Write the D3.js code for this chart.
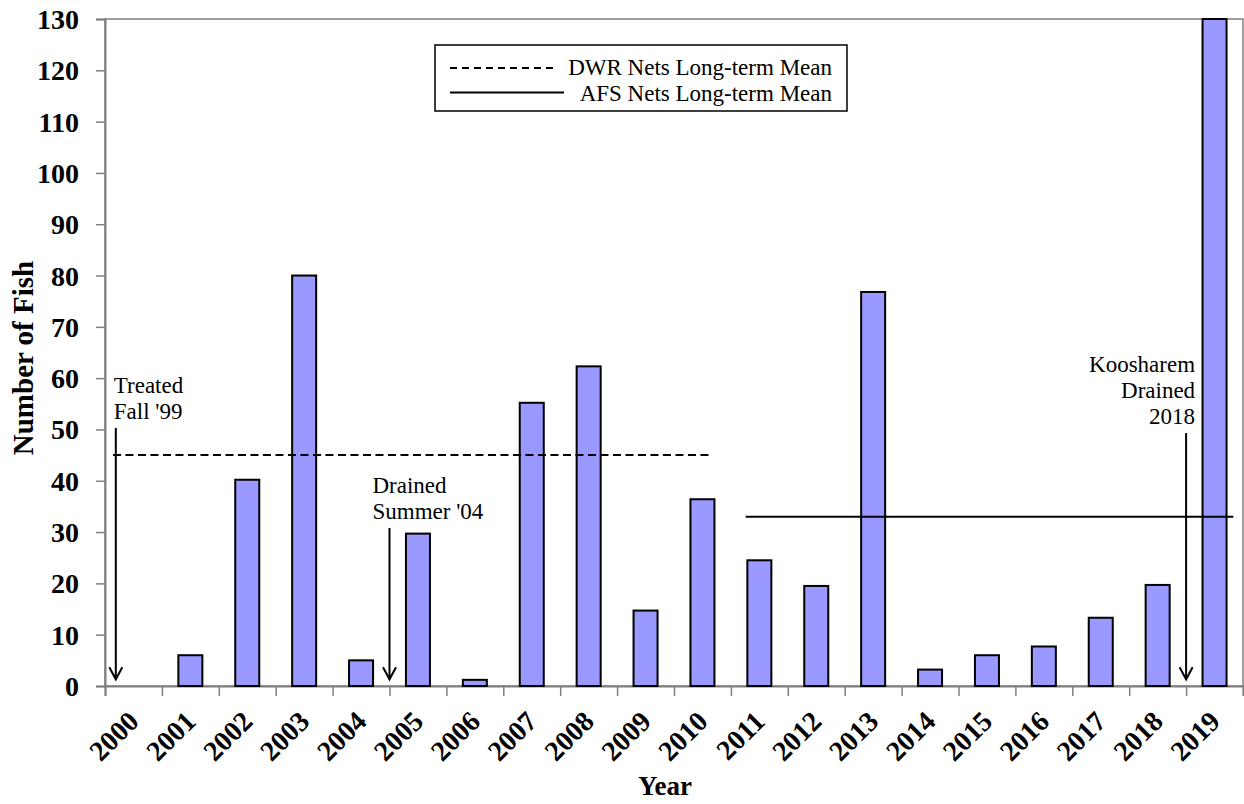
<!DOCTYPE html>
<html>
<head>
<meta charset="utf-8">
<script src="https://cdn.jsdelivr.net/npm/d3@7"></script>
<style>
  html, body { margin: 0; padding: 0; background: #fff; }
  svg { display: block; }
  text { font-family: "Liberation Serif", "Times New Roman", serif; fill: #000; }
</style>
</head>
<body>
<svg id="chart" width="1244" height="804"></svg>
<script>
// Annual catch, 2000-2019
const years = ["2000","2001","2002","2003","2004","2005","2006","2007","2008","2009",
               "2010","2011","2012","2013","2014","2015","2016","2017","2018","2019"];
const fishCounts = [0, 6, 40.2, 80, 5, 29.7, 1.2, 55.2, 62.3, 14.7,
                    36.4, 24.5, 19.5, 76.8, 3.2, 6, 7.7, 13.3, 19.7, 130];
const yTicks = [0,10,20,30,40,50,60,70,80,90,100,110,120,130];

// Long-term means
const dwrMean = 45;
const afsMean = 33;

const svg = d3.select("#chart");
const plotLeft = 105, plotRight = 1243, plotTop = 19, plotBottom = 686;

// Bars sit centred in yearly slots; slot boundaries carry the tick marks
const x = d3.scaleBand().domain(years).range([plotLeft, plotRight]).paddingInner(0.578).paddingOuter(0.289);
const xYear = d3.scaleLinear().domain([2000, 2020]).range([plotLeft, plotRight]);
const y = d3.scaleLinear().domain([0, 130]).range([plotBottom, plotTop]);

const axisColor = "#808080";

// Frame
svg.append("rect")
  .attr("x", plotLeft).attr("y", plotTop)
  .attr("width", plotRight - plotLeft).attr("height", plotBottom - plotTop)
  .attr("fill", "none").attr("stroke", axisColor).attr("stroke-width", 1.5);

// Y axis
const yAxis = svg.append("g")
  .attr("transform", `translate(${plotLeft},0)`)
  .call(d3.axisLeft(y).tickValues(yTicks).tickSize(9).tickPadding(17));
yAxis.select(".domain").attr("stroke", axisColor).attr("stroke-width", 2);
yAxis.selectAll(".tick line").attr("stroke", axisColor).attr("stroke-width", 1.5);
yAxis.selectAll(".tick text")
  .attr("font-family", "'Liberation Serif', serif")
  .attr("font-weight", "bold").attr("font-size", 28).attr("fill", "#000")
  .attr("dy", "0.34em");

// X axis ticks at slot boundaries
const xTickAxis = svg.append("g")
  .attr("transform", `translate(0,${plotBottom})`)
  .call(d3.axisBottom(xYear).tickValues(d3.range(2000, 2021)).tickSize(10).tickFormat(""));
xTickAxis.select(".domain").attr("stroke", axisColor).attr("stroke-width", 2);
xTickAxis.selectAll(".tick line").attr("stroke", axisColor).attr("stroke-width", 1.5);

// X labels, rotated
svg.append("g").selectAll("text")
  .data(years)
  .join("text")
  .attr("transform", d => `translate(${x(d) + x.bandwidth() / 2 + 7},${plotBottom + 37}) rotate(-45)`)
  .attr("text-anchor", "end")
  .attr("font-weight", "bold").attr("font-size", 28)
  .text(d => d);

// Bars
svg.append("g").selectAll("rect")
  .data(years.map((yr, i) => ({ yr, v: fishCounts[i] })).filter(d => d.v > 0))
  .join("rect")
  .attr("x", d => x(d.yr))
  .attr("y", d => y(d.v))
  .attr("width", x.bandwidth())
  .attr("height", d => y(0) - y(d.v))
  .attr("fill", "#9999ff")
  .attr("stroke", "#000")
  .attr("stroke-width", 2);

// Mean lines
svg.append("line")
  .attr("x1", xYear(2000.14)).attr("x2", xYear(2010.68))
  .attr("y1", y(dwrMean)).attr("y2", y(dwrMean))
  .attr("stroke", "#000").attr("stroke-width", 2).attr("stroke-dasharray", "8,4.5");
svg.append("line")
  .attr("x1", xYear(2011.26)).attr("x2", xYear(2019.83))
  .attr("y1", y(afsMean)).attr("y2", y(afsMean))
  .attr("stroke", "#000").attr("stroke-width", 2);

// Event annotations with downward arrows
const events = [
  { lines: ["Treated", "Fall '99"], year: 2000.19, from: 50.3, textDx: -2, anchor: "start" },
  { lines: ["Drained", "Summer '04"], year: 2005.0, from: 30.8, textDx: -17, anchor: "start" },
  { lines: ["Koosharem", "Drained", "2018"], year: 2019.0, from: 49.3, textDx: 9, anchor: "end" }
];
const ann = svg.append("g");
events.forEach(ev => {
  const ax = xYear(ev.year);
  const yStart = y(ev.from);
  const yTip = y(1.3);
  const n = ev.lines.length;
  ev.lines.forEach((ln, i) => {
    ann.append("text")
      .attr("x", ax + ev.textDx)
      .attr("y", yStart - 9 - (n - 1 - i) * 26)
      .attr("text-anchor", ev.anchor)
      .attr("font-size", 23)
      .text(ln);
  });
  ann.append("line")
    .attr("x1", ax).attr("x2", ax).attr("y1", yStart).attr("y2", yTip)
    .attr("stroke", "#000").attr("stroke-width", 2);
  ann.append("path")
    .attr("d", `M${ax - 6.5},${yTip - 12}L${ax},${yTip}L${ax + 6.5},${yTip - 12}`)
    .attr("fill", "none").attr("stroke", "#000").attr("stroke-width", 2);
});

// Legend
const legend = svg.append("g");
legend.append("rect")
  .attr("x", 435).attr("y", 45).attr("width", 412).attr("height", 66)
  .attr("fill", "#fff").attr("stroke", "#000").attr("stroke-width", 1.5);
legend.append("line")
  .attr("x1", 450).attr("x2", 557).attr("y1", 68).attr("y2", 68)
  .attr("stroke", "#000").attr("stroke-width", 2).attr("stroke-dasharray", "7,5");
legend.append("line")
  .attr("x1", 450).attr("x2", 564).attr("y1", 92.5).attr("y2", 92.5)
  .attr("stroke", "#000").attr("stroke-width", 2);
legend.append("text")
  .attr("x", 832).attr("y", 75).attr("text-anchor", "end").attr("font-size", 23)
  .text("DWR Nets Long-term Mean");
legend.append("text")
  .attr("x", 832).attr("y", 101).attr("text-anchor", "end").attr("font-size", 23)
  .text("AFS Nets Long-term Mean");

// Axis titles
svg.append("text")
  .attr("transform", "translate(33,358) rotate(-90)")
  .attr("text-anchor", "middle")
  .attr("font-weight", "bold").attr("font-size", 29)
  .text("Number of Fish");
svg.append("text")
  .attr("x", 665).attr("y", 795)
  .attr("text-anchor", "middle")
  .attr("font-weight", "bold").attr("font-size", 27)
  .text("Year");
</script>
</body>
</html>
